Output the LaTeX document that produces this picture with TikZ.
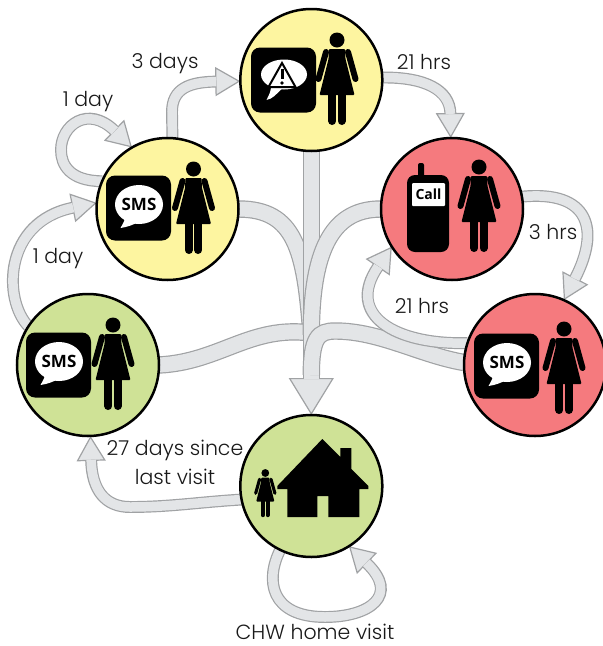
\documentclass[tikz,border=0pt]{standalone}
\usepackage{fontspec}
\setmainfont{Poppins Light}
\newfontfamily\iconfont{Open Sans}
\usetikzlibrary{arrows.meta, backgrounds}

\definecolor{bandfill}{HTML}{E3E5E7}
\definecolor{bandline}{HTML}{A0A2A4}
\definecolor{stageyellow}{HTML}{FDF5A0}
\definecolor{stagegreen}{HTML}{CFE296}
\definecolor{stagered}{HTML}{F57A7E}

\tikzset{
  pics/woman/.style={code={
    \begin{scope}[scale=#1]
    \fill[black] (0,0) circle (7.5);
    \fill[black, rounded corners=1pt] (-8,9) -- (8,9) -- (8.5,19) -- (17.5,55) -- (-17.5,55) -- (-8.5,19) -- cycle;
    \draw[black, line width=#1*6pt, line cap=round] (-11,12) -- (-18.5,39);
    \draw[black, line width=#1*6pt, line cap=round] (11,12) -- (18.5,39);
    \draw[black, line width=#1*8pt, line cap=round] (-4.7,50) -- (-4.7,81);
    \draw[black, line width=#1*8pt, line cap=round] (4.7,50) -- (4.7,81);
    \end{scope}
  }},
  smsbox/.pic={
    \fill[black, rounded corners=9pt] (-32.5,-32.5) rectangle (32.5,32.5);
    \fill[white] (0.5,-3.5) ellipse (24 and 19.5);
    \fill[white] (-13,6) .. controls (-14,13) .. (-18,20) .. controls (-11,19) and (-6,17) .. (0,14) -- cycle;
    \node[font=\iconfont\bfseries\fontsize{17}{17}\selectfont] (smsword) at (0.5,-3.5) {SMS};
  },
  alertbox/.pic={
    \fill[black, rounded corners=9pt] (-32.5,-32.5) rectangle (32.5,32.5);
    \fill[white] (0.5,-5.5) ellipse (23 and 15);
    \fill[white] (-12,4) .. controls (-13,12) .. (-17,20) .. controls (-11,19) and (-7,14) .. (-2,9) -- cycle;
    \draw[black, line width=2pt, line join=miter] (-1.5,-17) -- (12,7) -- (-15,7) -- cycle;
    \draw[black, line width=3pt] (-1.5,-11) -- (-1.5,-1);
    \fill[black] (-1.5,3) circle (1.9);
  },
  phone/.pic={
    \fill[black, rounded corners=2pt] (-10,-51) rectangle (-4,-30);
    \fill[black, rounded corners=8pt] (-21,-39) rectangle (21,38);
    \fill[white, rounded corners=1pt] (-16,-31) rectangle (17,-8);
    \node[font=\iconfont\bfseries\fontsize{14}{14}\selectfont] (callword) at (0.5,-19.5) {Call};
  },
  house/.pic={
    \fill[black] (-34,0) -- (11,-47) -- (29,-29) -- (29,-38) -- (40,-38) -- (40,-17) -- (57,0) -- (57,3) -- (48,3)
      -- (48,31) -- (17,31) -- (17,10) -- (6,10) -- (6,31) -- (-24,31) -- (-24,3) -- (-34,3) -- cycle;
  }
}

\begin{document}
\begin{tikzpicture}[x=1pt, y=-1pt]

  \tikzstyle{stage}=[circle, draw=black, line width=2.5pt, minimum size=142pt, inner sep=0pt, outer sep=0pt]
  \tikzstyle{band}=[draw=bandline, line width=17.4pt, postaction={draw=bandfill, line width=15pt}]
  \tikzstyle{loopband}=[draw=bandline, line width=11.9pt,
    -{Triangle[length=25pt, width=29pt, fill=bandfill, color=bandline, line width=1.2pt]},
    postaction={draw=bandfill, line width=9.5pt, -, shorten >=24pt}]
  \tikzstyle{mainband}=[draw=bandline, line width=17.4pt,
    -{Triangle[length=37pt, width=45pt, fill=bandfill, color=bandline, line width=1.2pt]},
    postaction={draw=bandfill, line width=15pt, -, shorten >=36pt}]
  \tikzstyle{lbl}=[font=\fontsize{20.5}{29}\selectfont, text=black!90, inner sep=0pt, align=center]

  \useasboundingbox (0,0) rectangle (603,646);

  \node[stage, fill=stageyellow] (alert) at (311.3,80) {};
  \node[stage, fill=stageyellow] (smsone) at (167.5,209) {};
  \node[stage, fill=stagered] (call) at (452,209) {};
  \node[stage, fill=stagegreen] (smsgreen) at (88,365) {};
  \node[stage, fill=stagered] (smsred) at (535,365) {};
  \node[stage, fill=stagegreen] (home) at (311.3,486) {};

  % icons
  \pic at ([shift={(-27.8,0)}]alert.center) {alertbox};
  \pic at ([shift={(25.7,-40)}]alert.center) {woman=1};
  \pic at ([shift={(-29,-1)}]smsone.center) {smsbox};
  \pic at ([shift={(26,-40)}]smsone.center) {woman=1};
  \pic at ([shift={(-24,5)}]call.center) {phone};
  \pic at ([shift={(27,-42)}]call.center) {woman=1};
  \pic at ([shift={(-29.5,0)}]smsgreen.center) {smsbox};
  \pic at ([shift={(25,-40)}]smsgreen.center) {woman=1};
  \pic at ([shift={(-28.5,1)}]smsred.center) {smsbox};
  \pic at ([shift={(29,-36)}]smsred.center) {woman=1};
  \pic at (home.center) {house};
  \pic at ([shift={(-46,-13)}]home.center) {woman=0.52};

  \begin{scope}[on background layer]
    % the tree in the middle
    \draw[band] (smsone.0) .. controls (295,209) and (305,250) .. (311,335);
    \draw[band] (smsgreen.0) .. controls (220,362) and (250,325) .. (311,333);
    \draw[mainband] (alert.south) -- (home.north);
    \draw[band] (call.180) .. controls (335,209) and (311.3,245) .. (311.3,335);
    \draw[band] (smsred.178) .. controls (420,355) and (380,331) .. (335,331)
      .. controls (318,331) and (311.3,338) .. (311.3,375);

    % the outer arrows
    \draw[loopband] (smsone.157) .. controls (70,181) and (61,165) .. (61,150)
      .. controls (61,125) and (88,105) .. (smsone.120);
    \draw[loopband] (smsone.86) -- (172,112) .. controls (172,88) and (190,82) .. (alert.181);
    \draw[loopband] (smsgreen.147) .. controls (3,300) and (3,222) .. (smsone.175);
    \draw[loopband] (alert.2) .. controls (425,77) and (450,90) .. (call.91);
    \draw[loopband] (call.10) .. controls (590,190) and (600,230) .. (smsred.66);
    \draw[loopband] (smsred.162) .. controls (395,345) and (345,315) .. (call.212);
    \draw[loopband] (home.191) .. controls (200,502) and (170,507) .. (130,507)
      .. controls (105,507) and (92,490) .. (smsgreen.272);
    \draw[loopband] (home.244) .. controls (265,580) and (270,617) .. (325,617)
      .. controls (370,617) and (400,595) .. (home.302);
  \end{scope}

  \node[lbl] (threedays) at (165,64) {3 days};
  \node[lbl] (oneloop) at (88,102) {1 day};
  \node[lbl] (onelate) at (58,259) {1 day};
  \node[lbl] (hrsone) at (424,62) {21 hrs};
  \node[lbl] (hrsthree) at (553,232) {3 hrs};
  \node[lbl] (hrstwo) at (422,306) {21 hrs};
  \node[lbl] (sincevisit) at (175,462) {27 days since\\last visit};
  \node[lbl] (chwvisit) at (315,632) {CHW home visit};

\end{tikzpicture}
\end{document}
